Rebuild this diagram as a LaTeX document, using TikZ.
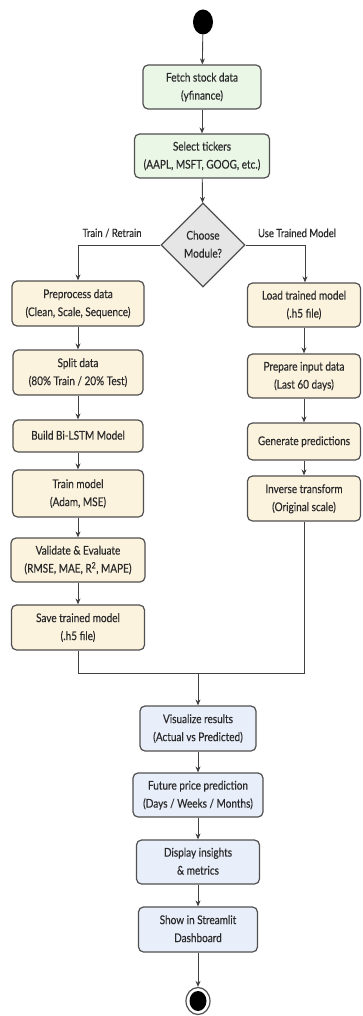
\documentclass[tikz,border=0pt]{standalone}
\usepackage{fontspec}
\setmainfont{Lato}
\newfontfamily\medfont{Lato}[FakeBold=0.35]
\usepackage{graphicx}
\usetikzlibrary{shapes.geometric,arrows.meta}
\definecolor{gfill}{HTML}{EAF6E6}
\definecolor{yfill}{HTML}{FCF3DF}
\definecolor{bfill}{HTML}{E8EEFA}
\definecolor{dfill}{HTML}{E6E6E6}
\definecolor{edge}{HTML}{505050}
\definecolor{txt}{HTML}{2A2A2A}
\newcommand{\st}[1]{\scalebox{1}[1.2]{\begin{tabular}{@{}c@{}}#1\end{tabular}}}
\tikzset{
  box/.style={draw=edge, line width=1.2pt, rounded corners=5pt, inner sep=0pt,
    text=txt, font=\fontsize{10}{15}\medfont},
  gbox/.style={box, fill=gfill},
  ybox/.style={box, fill=yfill},
  bbox/.style={box, fill=bfill},
  arr/.style={draw=edge!80!black, line width=0.9pt, -{Stealth[length=6pt,width=5pt]}},
  ln/.style={draw=edge!80!black, line width=0.9pt},
  lbl/.style={text=txt, font=\fontsize{9.5}{12}\medfont, inner sep=0pt}
}
\begin{document}
\begin{tikzpicture}[x=1pt,y=-1pt]
\useasboundingbox (0,0) rectangle (362,1016);
% start
\node[draw=none, fill=black, ellipse, minimum width=20, minimum height=25, inner sep=0] (start) at (203,22) {};
% top
\node[gbox, minimum width=118, minimum height=44] (fetch) at (202,87) {\st{Fetch stock data\\(yfinance)}};
\node[gbox, minimum width=135, minimum height=44] (select) at (202,156) {\st{Select tickers\\(AAPL, MSFT, GOOG, etc.)}};
\node[diamond, draw=edge, line width=1.2pt, fill=dfill, aspect=1, minimum width=84, minimum height=84, inner sep=0pt, text=txt, font=\fontsize{10}{15}\medfont] (choose) at (203,245) {\st{Choose\\Module?}};
% left column
\node[ybox, minimum width=132, minimum height=45] (pre) at (78,303.5) {\st{Preprocess data\\(Clean, Scale, Sequence)}};
\node[ybox, minimum width=130, minimum height=45] (split) at (78,372.5) {\st{Split data\\(80\% Train / 20\% Test)}};
\node[ybox, minimum width=130, minimum height=32] (build) at (78,436) {\st{Build Bi-LSTM Model}};
\node[ybox, minimum width=131, minimum height=47] (train) at (78,493.5) {\st{Train model\\(Adam, MSE)}};
\node[ybox, minimum width=134, minimum height=44] (valid) at (78,560) {\st{Validate \& Evaluate\\(RMSE, MAE, R\textsuperscript{2}, MAPE)}};
\node[ybox, minimum width=133, minimum height=45] (save) at (78,627.5) {\st{Save trained model\\(.h5 file)}};
% right column
\node[ybox, minimum width=113, minimum height=44] (load) at (304,305) {\st{Load trained model\\(.h5 file)}};
\node[ybox, minimum width=113, minimum height=44] (prep) at (304,376) {\st{Prepare input data\\(Last 60 days)}};
\node[ybox, minimum width=113, minimum height=37] (gen) at (304,441.5) {\st{Generate predictions}};
\node[ybox, minimum width=113, minimum height=45] (inv) at (304,498.5) {\st{Inverse transform\\(Original scale)}};
% bottom
\node[bbox, minimum width=116, minimum height=45] (vis) at (198,728.5) {\st{Visualize results\\(Actual vs Predicted)}};
\node[bbox, minimum width=130, minimum height=44] (fut) at (198,795) {\st{Future price prediction\\(Days / Weeks / Months)}};
\node[bbox, minimum width=123, minimum height=44] (disp) at (198,862) {\st{Display insights\\\& metrics}};
\node[bbox, minimum width=119, minimum height=45] (show) at (198,929.5) {\st{Show in Streamlit\\Dashboard}};
% end
\node[draw=edge, line width=1.2pt, fill=white, ellipse, minimum width=24, minimum height=27, inner sep=0] (end) at (198,1001) {};
\node[fill=black, ellipse, minimum width=17, minimum height=20, inner sep=0] (endin) at (198,1001) {};
% labels
\node[lbl] (ltr) at (112,233) {\scalebox{1}[1.2]{Train / Retrain}};
\node[lbl] (lut) at (297,233) {\scalebox{1}[1.2]{Use Trained Model}};
% coordinates
\coordinate (cl) at (78,245);
\coordinate (cr) at (305,245);
\coordinate (ml) at (78,673);
\coordinate (mr) at (304,673);
\coordinate (mm) at (198,673);
% connectors
\draw[arr] (start) -- (fetch);
\draw[arr] (fetch) -- (select);
\draw[arr] (select) -- (choose);
\draw[arr] (choose.west) -- (cl) -- (pre.north);
\draw[arr] (choose.east) -- (cr) -- (cr |- load.north);
\draw[arr] (pre) -- (split);
\draw[arr] (split) -- (build);
\draw[arr] (build) -- (train);
\draw[arr] (train) -- (valid);
\draw[arr] (valid) -- (save);
\draw[arr] (load) -- (prep);
\draw[arr] (prep) -- (gen);
\draw[arr] (gen) -- (inv);
\draw[ln] (save.south) -- (ml) -- (mr) -- (inv.south);
\draw[arr] (mm) -- (vis.north);
\draw[arr] (vis) -- (fut);
\draw[arr] (fut) -- (disp);
\draw[arr] (disp) -- (show);
\draw[arr] (show) -- (end);
\end{tikzpicture}
\end{document}
